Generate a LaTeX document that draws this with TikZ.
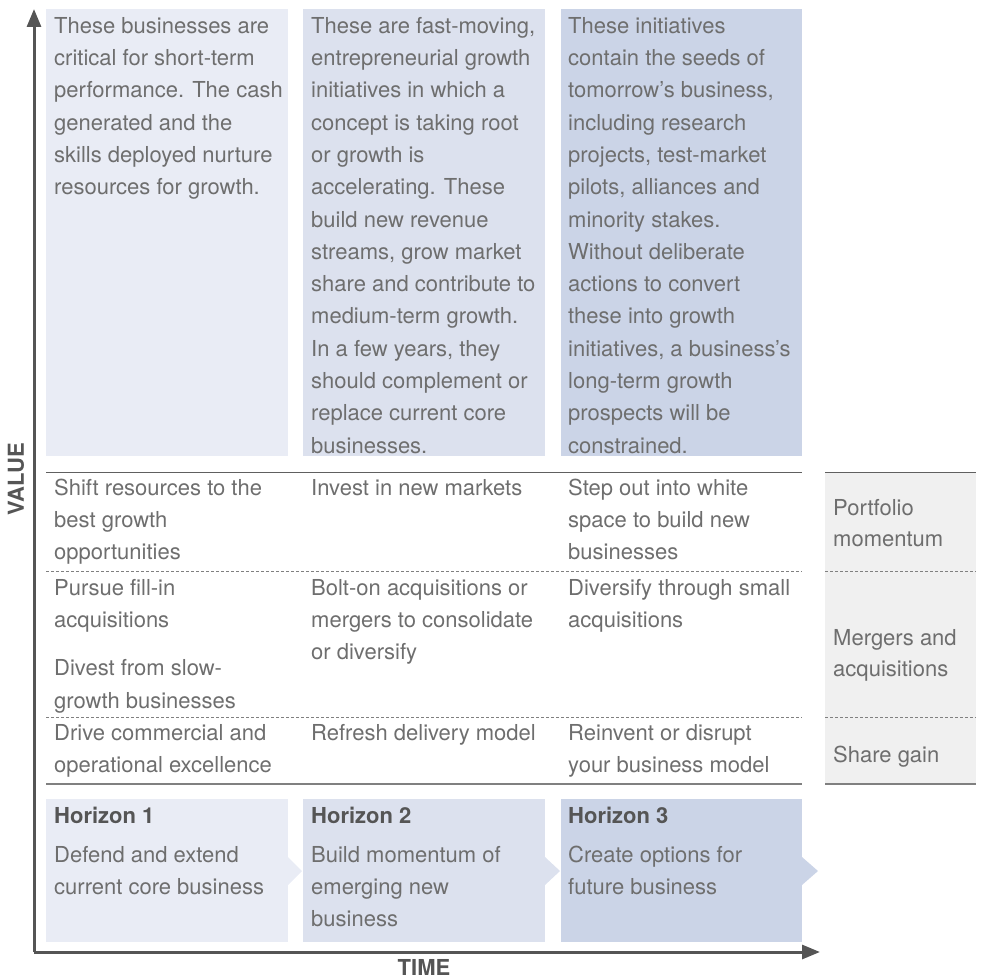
\documentclass[tikz,border=0pt]{standalone}
\usepackage{fontspec}
\setmainfont{TeX Gyre Heros}
\usetikzlibrary{arrows.meta}
\definecolor{cA}{HTML}{E9ECF5}
\definecolor{cB}{HTML}{DCE1EE}
\definecolor{cC}{HTML}{CBD4E7}
\definecolor{cR}{HTML}{F0F0F0}
\definecolor{txtgray}{HTML}{6E6E6E}
\definecolor{hdrgray}{HTML}{555555}
\definecolor{axisgray}{HTML}{555555}
\definecolor{rulegray}{HTML}{606060}
\definecolor{dashgray}{HTML}{808080}
\newcommand{\fstr}{\rule{0pt}{20pt}}
\tikzset{
  txt/.style={anchor=north west, inner sep=0pt, align=left, text=txtgray,
    font=\fontsize{22}{32.3}\selectfont},
  rtxt/.style={txt, font=\fontsize{22}{31}\selectfont},
  hdr/.style={anchor=base west, inner sep=0pt, text=hdrgray,
    font=\fontsize{22}{26}\selectfont\bfseries},
  axlabel/.style={inner sep=0pt, text=hdrgray, font=\fontsize{22}{26}\selectfont\bfseries},
  toprule/.style={draw=rulegray, line width=1pt},
  botrule/.style={draw=dashgray, line width=1.6pt},
  dashrule/.style={draw=dashgray, line width=1pt, dash pattern=on 3pt off 2pt},
  axisline/.style={draw=axisgray, line width=3pt, -{Triangle[length=18pt,width=14pt]}},
}
\begin{document}
\begin{tikzpicture}[x=1pt,y=-1pt]
\useasboundingbox (0,0) rectangle (982,979);
% top boxes
\fill[cA] (46,9) rectangle (288,456);
\fill[cB] (303,9) rectangle (545,456);
\fill[cC] (561,9) rectangle (802,456);
% horizon boxes
\fill[cA] (46,799) rectangle (288,942);
\fill[cB] (303,799) rectangle (545,942);
\fill[cC] (561,799) rectangle (802,942);
\fill[cA] (288,857) -- (302,871) -- (288,885) -- cycle;
\fill[cB] (545,857) -- (560,871) -- (545,885) -- cycle;
\fill[cC] (802,857) -- (818,871) -- (802,885) -- cycle;
% right column
\fill[cR] (825,472) rectangle (976,784);
% rules
\draw[toprule] (46,472) -- (802,472);
\draw[toprule] (825,472) -- (976,472);
\draw[dashrule] (46,571) -- (802,571);
\draw[dashrule] (825,571) -- (976,571);
\draw[dashrule] (46,717) -- (802,717);
\draw[dashrule] (825,717) -- (976,717);
\draw[botrule] (46,784) -- (802,784);
\draw[botrule] (825,784) -- (976,784);
% axes
\coordinate (origin) at (34,952);
\coordinate (ytip) at (34,9);
\coordinate (xtip) at (820,952);
\draw[axisline] (origin) -- (ytip);
\draw[axisline] (origin) -- (xtip);
\node[axlabel, rotate=90] (value) at (16,479) {VALUE};
\node[axlabel, anchor=base] (time) at (424,975) {TIME};
% top texts
\node[txt] (t1) at (54,13) {\fstr These businesses are\\critical for short-term\\performance. The cash\\generated and the\\skills deployed nurture\\resources for growth.};
\node[txt] (t2) at (311,13) {\fstr These are fast-moving,\\entrepreneurial growth\\initiatives in which a\\concept is taking root\\or growth is\\accelerating. These\\build new revenue\\streams, grow market\\share and contribute to\\medium-term growth.\\In a few years, they\\should complement or\\replace current core\\businesses.};
\node[txt] (t3) at (568,13) {\fstr These initiatives\\contain the seeds of\\tomorrow’s business,\\including research\\projects, test-market\\pilots, alliances and\\minority stakes.\\Without deliberate\\actions to convert\\these into growth\\initiatives, a business’s\\long-term growth\\prospects will be\\constrained.};
% row 1
\node[txt] (r1a) at (54,475) {\fstr Shift resources to the\\best growth\\opportunities};
\node[txt] (r1b) at (311,475) {\fstr Invest in new markets};
\node[txt] (r1c) at (568,475) {\fstr Step out into white\\space to build new\\businesses};
% row 2
\node[txt] (r2a) at (54,575) {\fstr Pursue fill-in\\acquisitions\\[16pt]Divest from slow-\\growth businesses};
\node[txt] (r2b) at (311,575) {\fstr Bolt-on acquisitions or\\mergers to consolidate\\or diversify};
\node[txt] (r2c) at (568,575) {\fstr Diversify through small\\acquisitions};
% row 3
\node[txt] (r3a) at (54,720) {\fstr Drive commercial and\\operational excellence};
\node[txt] (r3b) at (311,720) {\fstr Refresh delivery model};
\node[txt] (r3c) at (568,720) {\fstr Reinvent or disrupt\\your business model};
% right labels
\node[rtxt] (lp) at (833,495) {\fstr Portfolio\\momentum};
\node[rtxt] (lm) at (833,625) {\fstr Mergers and\\acquisitions};
\node[rtxt] (ls) at (833,742) {\fstr Share gain};
% horizons
\node[hdr] (h1) at (54,823) {Horizon 1};
\node[hdr] (h2) at (311,823) {Horizon 2};
\node[hdr] (h3) at (568,823) {Horizon 3};
\node[txt] (h1t) at (54,842) {\fstr Defend and extend\\current core business};
\node[txt] (h2t) at (311,842) {\fstr Build momentum of\\emerging new\\business};
\node[txt] (h3t) at (568,842) {\fstr Create options for\\future business};
\end{tikzpicture}
\end{document}
